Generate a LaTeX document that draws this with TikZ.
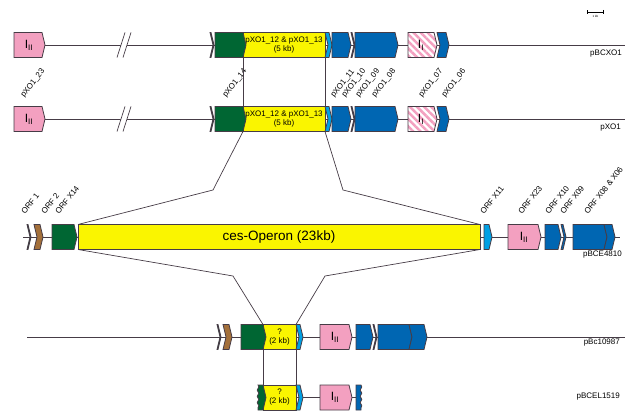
\documentclass[tikz,border=0pt]{standalone}
\usepackage{fontspec}
\setmainfont{Liberation Sans}
\usepackage{tikz}
\usetikzlibrary{arrows.meta,patterns.meta,decorations.pathmorphing}
\definecolor{genpink}{RGB}{243,160,192}
\definecolor{gendkgreen}{RGB}{0,102,51}
\definecolor{gengreen}{RGB}{0,160,80}
\definecolor{genyellow}{RGB}{250,245,0}
\definecolor{genltblue}{RGB}{0,160,228}
\definecolor{genblue}{RGB}{0,102,178}
\definecolor{genbrown}{RGB}{164,112,58}
\definecolor{outline}{RGB}{70,60,70}
\tikzstyle{genebox} = [draw=outline, line width=0.8pt, line join=miter]
\tikzstyle{yelbox} = [rectangle, draw=outline, line width=0.8pt, fill=genyellow, minimum height=25pt, inner sep=0pt, outer sep=0pt, align=center, font=\fontsize{8}{9}\selectfont]
\tikzstyle{backbone} = [draw=outline, line width=0.9pt]
\tikzstyle{link} = [draw=outline, line width=0.7pt]
\tikzstyle{orf} = [anchor=base west, rotate=52, inner sep=0pt, font=\fontsize{8}{9}\selectfont]
\tikzstyle{plasmid} = [anchor=base east, inner sep=0pt, font=\fontsize{8}{9}\selectfont]
\tikzstyle{clslabel} = [inner sep=0pt, font=\fontsize{12}{12}\selectfont]
\tikzstyle{wavy} = [decoration={snake, amplitude=0.8pt, segment length=6.25pt}]
\newcommand{\gene}[4]{\path[genebox, fill=#4] (#1,{#3-12.5}) -- ({#2-3},{#3-12.5}) -- (#2,#3) -- ({#2-3},{#3+12.5}) -- (#1,{#3+12.5}) -- cycle;}
\newcommand{\ngene}[4]{\path[genebox, fill=#4] (#1,{#3-12.5}) -- ({#2-3},{#3-12.5}) -- (#2,#3) -- ({#2-3},{#3+12.5}) -- (#1,{#3+12.5}) -- ({#1+3},#3) -- cycle;}
\newcommand{\hgene}[3]{\path[genebox, preaction={fill=white}, pattern={Lines[angle=-45, distance=5pt, line width=2.5pt]}, pattern color=genpink] (#1,{#3-12.5}) -- ({#2-3},{#3-12.5}) -- (#2,#3) -- ({#2-3},{#3+12.5}) -- (#1,{#3+12.5}) -- cycle;}
\begin{document}
\begin{tikzpicture}[x=1pt,y=-1pt]
\useasboundingbox (0,0) rectangle (628,411);

% scale bar
\coordinate (sb-a) at (587,12);
\coordinate (sb-b) at (604,12);
\draw[line width=0.8pt, {Bar[width=4pt]}-{Bar[width=4pt]}] (sb-a) -- (sb-b);
\node[inner sep=0pt, font=\fontsize{3}{3}\selectfont] (sb-text) at (595.5,16) {1 kb};

% pBCXO1
\path[backbone] (44,45) -- (625,45);
\fill[white] (117,57.5) -- (125,32.5) -- (131,32.5) -- (123,57.5) -- cycle;
\draw[link] (117,57.5) -- (125,32.5) (123,57.5) -- (131,32.5);
\gene{14}{45}{45}{genpink}
\node[clslabel] (i-a) at (29,45) {I\textsubscript{II}};
\ngene{210}{214}{45}{gengreen}
\node[yelbox, minimum width=82pt] (yel1) at (284,45) {pXO1\_12 \& pXO1\_13\\(5 kb)};
\gene{215}{246}{45}{gendkgreen}
\ngene{325}{332}{45}{genltblue}
\gene{332}{351}{45}{genblue}
\ngene{351}{355}{45}{genblue}
\gene{355}{398}{45}{genblue}
\hgene{408}{437}{45}
\node[clslabel] (i-b) at (421,45) {I\textsubscript{I}};
\ngene{437}{449}{45}{genblue}
\node[plasmid] (pl1) at (622,56) {pBCXO1};

% pXO1
\path[backbone] (44,119) -- (625,119);
\fill[white] (117,131.5) -- (125,106.5) -- (131,106.5) -- (123,131.5) -- cycle;
\draw[link] (117,131.5) -- (125,106.5) (123,131.5) -- (131,106.5);
\gene{14}{45}{119}{genpink}
\node[clslabel] (i-c) at (29,119) {I\textsubscript{II}};
\ngene{210}{214}{119}{gengreen}
\node[yelbox, minimum width=82pt] (yel2) at (284,119) {pXO1\_12 \& pXO1\_13\\(5 kb)};
\gene{215}{246}{119}{gendkgreen}
\ngene{325}{332}{119}{genltblue}
\gene{332}{351}{119}{genblue}
\ngene{351}{355}{119}{genblue}
\gene{355}{398}{119}{genblue}
\hgene{408}{437}{119}
\node[clslabel] (i-d) at (421,119) {I\textsubscript{I}};
\ngene{437}{449}{119}{genblue}
\node[plasmid] (pl2) at (621,130) {pXO1};

\node[orf] (x23) at (24,98) {pXO1\_23};
\node[orf] (x14) at (226,98) {pXO1\_14};
\node[orf] (x11) at (334,98) {pXO1\_11};
\node[orf] (x10) at (345,98) {pXO1\_10};
\node[orf] (x09) at (359,98) {pXO1\_09};
\node[orf] (x08) at (375,98) {pXO1\_08};
\node[orf] (x07) at (422,98) {pXO1\_07};
\node[orf] (x06) at (445,98) {pXO1\_06};

\path[link] (yel1.south west) -- (yel2.north west);
\path[link] (yel1.south east) -- (yel2.north east);

% pBCE4810
\path[backbone] (23,237) -- (620,237);
\ngene{27}{31}{237}{gengreen}
\ngene{34}{43}{237}{genbrown}
\gene{52}{77}{237}{gendkgreen}
\node[yelbox, minimum width=402pt, font=\fontsize{13.5}{14}\selectfont] (ces) at (279,237) {ces-Operon (23kb)};
\gene{484}{492}{237}{genltblue}
\gene{508}{541}{237}{genpink}
\node[clslabel] (i-e) at (524,237) {I\textsubscript{II}};
\gene{545}{561}{237}{genblue}
\ngene{561}{566}{237}{genblue}
\gene{573}{607}{237}{genblue}
\ngene{604}{615}{237}{genblue}
\node[plasmid] (pl3) at (622,257) {pBCE4810};

\node[orf] (o1) at (25,215) {ORF 1};
\node[orf] (o2) at (45,215) {ORF 2};
\node[orf] (ox14) at (59,215) {ORF X14};
\node[orf] (ox11) at (484,215) {ORF X11};
\node[orf] (ox23) at (522,215) {ORF X23};
\node[orf] (ox10) at (549,215) {ORF X10};
\node[orf] (ox09) at (564,215) {ORF X09};
\node[orf] (ox08) at (588,215) {ORF X08 \& X06};

\coordinate (k1) at (213,190);
\coordinate (k2) at (343,190);
\path[link] (yel2.south west) -- (k1) -- (ces.north west);
\path[link] (yel2.south east) -- (k2) -- (ces.north east);

% pBc10987
\path[backbone] (27,337) -- (625,337);
\ngene{217}{221}{337}{gengreen}
\ngene{223}{232}{337}{genbrown}
\node[yelbox, minimum width=33pt] (yel4) at (279.5,337) {?\\(2 kb)};
\gene{241}{266}{337}{gendkgreen}
\ngene{296}{303}{337}{genltblue}
\gene{320}{352}{337}{genpink}
\node[clslabel] (i-f) at (335,337) {I\textsubscript{II}};
\gene{356}{373}{337}{genblue}
\ngene{373}{377}{337}{genblue}
\gene{378}{412}{337}{genblue}
\ngene{409}{427}{337}{genblue}
\node[plasmid] (pl4) at (620,344) {pBc10987};

\coordinate (k3) at (233,276);
\coordinate (k4) at (325,276);
\path[link] (ces.south west) -- (k3) -- (yel4.north west);
\path[link] (ces.south east) -- (k4) -- (yel4.north east);

% pBCEL1519
\path[backbone] (296,397.5) -- (356,397.5);
\node[yelbox, minimum width=33pt] (yel5) at (279.5,397.5) {?\\(2 kb)};
\path[genebox, fill=gendkgreen, wavy] (263,385) -- (258,385) decorate {-- (258,410)} -- (263,410) -- (266,397.5) -- cycle;
\ngene{296}{303}{397.5}{genltblue}
\gene{320}{352}{397.5}{genpink}
\node[clslabel] (i-g) at (335,397.5) {I\textsubscript{II}};
\path[genebox, fill=genblue, wavy] (356,385) -- (361,385) decorate {-- (361,410)} -- (356,410) -- cycle;
\node[plasmid] (pl5) at (620,398) {pBCEL1519};

\path[link] (yel4.south west) -- (yel5.north west);
\path[link] (yel4.south east) -- (yel5.north east);
\end{tikzpicture}
\end{document}
